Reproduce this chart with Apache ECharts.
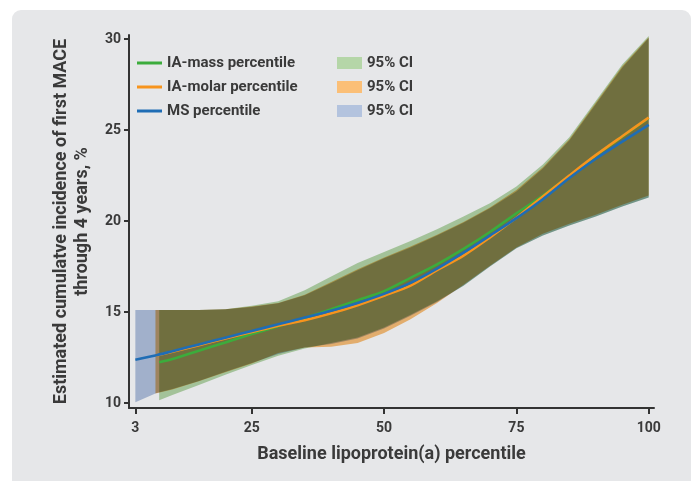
<!DOCTYPE html>
<html>
<head>
<meta charset="utf-8">
<script src="https://cdn.jsdelivr.net/npm/echarts@6/dist/echarts.min.js"></script>
<style>
html,body{margin:0;padding:0;background:#fff;}
#c{width:695px;height:481px;}
</style>
</head>
<body>
<div id="c"></div>
<script>
// ---- data ----
const xTicks = [3, 25, 50, 75, 100];
const yTicks = [10, 15, 20, 25, 30];

const msX    = [3, 7, 10, 15, 20, 25, 30, 35, 40, 45, 50, 55, 60, 65, 70, 75, 80, 85, 90, 95, 100];
const msLine = [12.38, 12.63, 12.85, 13.22, 13.59, 13.96, 14.33, 14.7, 15.07, 15.5, 16.0, 16.6, 17.38, 18.26, 19.2, 20.16, 21.2, 22.36, 23.42, 24.36, 25.28];
const msLo   = [10.04, 10.55, 10.78, 11.22, 11.72, 12.2, 12.7, 13.05, 13.25, 13.55, 14.1, 14.8, 15.55, 16.45, 17.5, 18.5, 19.2, 19.75, 20.25, 20.8, 21.3];
const msHi   = [15.11, 15.11, 15.11, 15.12, 15.15, 15.28, 15.48, 15.92, 16.6, 17.3, 17.95, 18.55, 19.2, 19.9, 20.7, 21.62, 22.88, 24.42, 26.42, 28.42, 30.05];

const molarX    = [6.8, 10, 15, 20, 25, 30, 35, 40, 45, 50, 55, 60, 65, 70, 75, 80, 85, 90, 95, 100];
const molarLine = [12.6, 12.82, 13.18, 13.55, 13.9, 14.25, 14.55, 14.93, 15.38, 15.9, 16.45, 17.3, 18.1, 19.1, 20.18, 21.35, 22.5, 23.62, 24.66, 25.68];
const molarLo   = [10.53, 10.75, 11.2, 11.7, 12.18, 12.75, 13.05, 13.1, 13.3, 13.85, 14.6, 15.5, 16.5, 17.55, 18.55, 19.3, 19.85, 20.35, 20.9, 21.4];
const molarHi   = [15.11, 15.11, 15.12, 15.15, 15.3, 15.5, 15.95, 16.65, 17.35, 18.0, 18.6, 19.25, 19.95, 20.75, 21.7, 22.95, 24.5, 26.5, 28.5, 30.1];

const massX    = [7.5, 10, 15, 20, 25, 30, 35, 40, 45, 50, 55, 60, 65, 70, 75, 80, 85, 90, 95, 100];
const massLine = [12.24, 12.42, 12.88, 13.33, 13.79, 14.22, 14.68, 15.15, 15.65, 16.15, 16.88, 17.62, 18.47, 19.4, 20.42, 21.4, 22.47, 23.6, 24.64, 25.66];
const massLo   = [10.16, 10.45, 11.0, 11.55, 12.09, 12.6, 13.0, 13.3, 13.6, 14.15, 14.85, 15.6, 16.45, 17.5, 18.5, 19.2, 19.75, 20.25, 20.8, 21.3];
const massHi   = [15.11, 15.11, 15.12, 15.15, 15.35, 15.6, 16.2, 16.95, 17.7, 18.3, 18.9, 19.55, 20.25, 20.98, 21.9, 23.1, 24.6, 26.6, 28.6, 30.17];

// ---- chart ----
const FONT = 'Roboto';
const TXT = '#3a3a3a';
const chart = echarts.init(document.getElementById('c'), null, {renderer: 'canvas'});

function band(name, xs, lo, hi, color) {
  return {
    type: 'custom', name: name, coordinateSystem: 'cartesian2d',
    data: xs.map((x, i) => [x, lo[i], hi[i]]),
    encode: {x: 0, y: [1, 2]},
    itemStyle: {color: color},
    blendMode: 'multiply',
    z: 1, silent: true,
    renderItem: function (params, api) {
      if (params.dataIndex !== 0) return null;
      const pts = [];
      for (let i = 0; i < xs.length; i++) pts.push(api.coord([xs[i], hi[i]]));
      for (let i = xs.length - 1; i >= 0; i--) pts.push(api.coord([xs[i], lo[i]]));
      return {type: 'polygon', shape: {points: pts}, style: {fill: color, blend: 'multiply'}};
    }
  };
}
function line(name, xs, ys, color) {
  return {
    type: 'line', name: name, data: xs.map((x, i) => [x, ys[i]]),
    smooth: 0.3, showSymbol: false, symbol: 'none', z: 3,
    itemStyle: {color: color}, lineStyle: {color: color, width: 2.6}
  };
}

const option = {
  animation: false,
  graphic: [{
    type: 'rect', z: -10, silent: true,
    shape: {x: 12, y: 10, width: 679, height: 490, r: 9},
    style: {fill: '#e6e7e9'}
  }],
  grid: {left: 129, right: 41, top: 35, bottom: 73},
  legend: [{
    data: ['IA-mass percentile', 'IA-molar percentile', 'MS percentile'],
    orient: 'vertical', left: 132, top: 50, itemWidth: 25, itemHeight: 3, itemGap: 8,
    icon: 'rect', selectedMode: false,
    textStyle: {fontFamily: FONT, fontWeight: 'bold', fontSize: 15, color: TXT, lineHeight: 16}
  }, {
    data: ['CI mass', 'CI molar', 'CI MS'],
    orient: 'vertical', left: 332, top: 50, itemWidth: 25, itemHeight: 12, itemGap: 8,
    icon: 'rect', selectedMode: false,
    formatter: function () { return '95% CI'; },
    textStyle: {fontFamily: FONT, fontWeight: 'bold', fontSize: 15, color: TXT, lineHeight: 16}
  }],
  xAxis: {
    type: 'value', min: 1.8, max: 101,
    name: 'Baseline lipoprotein(a) percentile', nameLocation: 'middle', nameGap: 37,
    nameTextStyle: {fontFamily: FONT, fontWeight: 'bold', fontSize: 18, color: TXT},
    axisLine: {show: true, lineStyle: {color: '#333', width: 2}},
    axisTick: {show: true, length: 6, lineStyle: {color: '#333', width: 2}, customValues: xTicks},
    axisLabel: {customValues: xTicks, margin: 13, fontFamily: FONT, fontWeight: 'bold', fontSize: 14, color: TXT},
    splitLine: {show: false}
  },
  yAxis: {
    type: 'value', min: 9.73, max: 30.22,
    name: 'Estimated cumulatve incidence of first MACE\nthrough 4 years, %', nameLocation: 'middle', nameGap: 36,
    nameTextStyle: {fontFamily: FONT, fontWeight: 'bold', fontSize: 18, color: TXT, lineHeight: 21},
    axisLine: {show: true, lineStyle: {color: '#333', width: 2}},
    axisTick: {show: true, length: 5, lineStyle: {color: '#333', width: 2}, customValues: yTicks},
    axisLabel: {customValues: yTicks, margin: 8, fontFamily: FONT, fontWeight: 'bold', fontSize: 14, color: TXT},
    splitLine: {show: false}
  },
  series: [
    band('CI mass', massX, massLo, massHi, '#b5d6a8'),
    band('CI molar', molarX, molarLo, molarHi, '#fbbf77'),
    band('CI MS', msX, msLo, msHi, '#b3c3de'),
    line('IA-mass percentile', massX, massLine, '#3cac3c'),
    line('IA-molar percentile', molarX, molarLine, '#f7941d'),
    line('MS percentile', msX, msLine, '#1f6db5')
  ]
};
chart.setOption(option);
</script>
</body>
</html>
